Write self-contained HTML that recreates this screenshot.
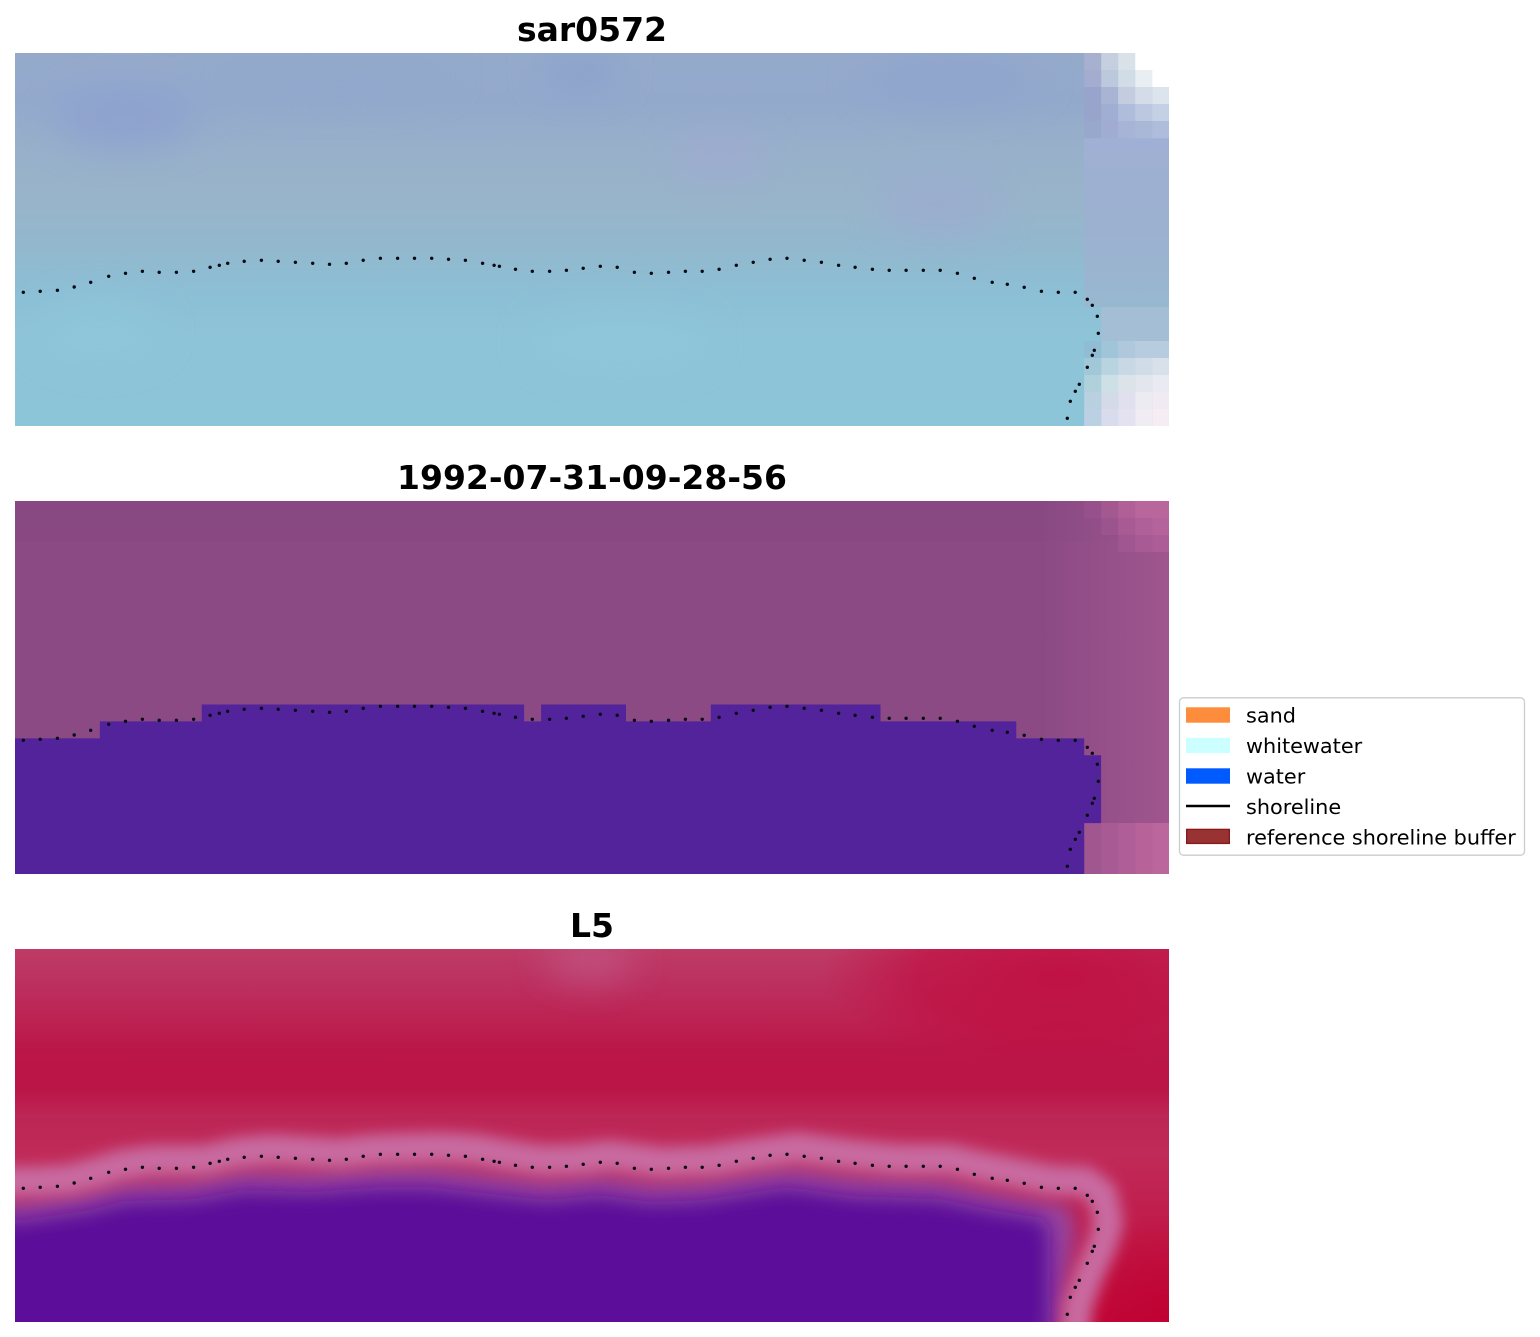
<!DOCTYPE html>
<html>
<head>
<meta charset="utf-8">
<style>
html,body{margin:0;padding:0;background:#ffffff;}
svg{display:block;}
</style>
</head>
<body>
<svg width="1540" height="1337" viewBox="0 0 1540 1337" xmlns="http://www.w3.org/2000/svg">
<defs>
  <clipPath id="c1"><rect x="15" y="53" width="1154" height="373"/></clipPath>
  <clipPath id="c2"><rect x="15" y="501" width="1154" height="373"/></clipPath>
  <clipPath id="c3"><rect x="15" y="949" width="1154" height="373"/></clipPath>
  <filter id="b10" filterUnits="userSpaceOnUse" x="-300" y="-100" width="2000" height="1600"><feGaussianBlur stdDeviation="10"/></filter>
  <filter id="b7" filterUnits="userSpaceOnUse" x="-300" y="-100" width="2000" height="1600"><feGaussianBlur stdDeviation="7"/></filter>
  <filter id="b18" filterUnits="userSpaceOnUse" x="-300" y="-100" width="2000" height="1600"><feGaussianBlur stdDeviation="18"/></filter>
  <linearGradient id="g1" gradientUnits="userSpaceOnUse" x1="0" y1="53" x2="0" y2="426">
    <stop offset="0" stop-color="#95aacb"/>
    <stop offset="0.13" stop-color="#93a9cc"/>
    <stop offset="0.26" stop-color="#98b0ca"/>
    <stop offset="0.4" stop-color="#98b4ca"/>
    <stop offset="0.53" stop-color="#92b8ce"/>
    <stop offset="0.64" stop-color="#8cbfd5"/>
    <stop offset="0.77" stop-color="#8ec4d8"/>
    <stop offset="1" stop-color="#8cc4d8"/>
  </linearGradient>
  <linearGradient id="g1r" gradientUnits="userSpaceOnUse" x1="0" y1="138" x2="0" y2="307">
    <stop offset="0" stop-color="#a0b0d4"/>
    <stop offset="0.5" stop-color="#9cb0d0"/>
    <stop offset="1" stop-color="#98b8d0"/>
  </linearGradient>
  <linearGradient id="g2r" gradientUnits="userSpaceOnUse" x1="1040" y1="0" x2="1169" y2="0">
    <stop offset="0" stop-color="#b8649c" stop-opacity="0"/>
    <stop offset="1" stop-color="#b8649c" stop-opacity="0.45"/>
  </linearGradient>
  <linearGradient id="g3" gradientUnits="userSpaceOnUse" x1="0" y1="949" x2="0" y2="1322">
    <stop offset="0" stop-color="#be3c66"/>
    <stop offset="0.09" stop-color="#bc3060"/>
    <stop offset="0.18" stop-color="#bc2454"/>
    <stop offset="0.27" stop-color="#bb1648"/>
    <stop offset="0.37" stop-color="#bb1446"/>
    <stop offset="0.45" stop-color="#bc2656"/>
    <stop offset="0.55" stop-color="#c02a58"/>
    <stop offset="1" stop-color="#c00838"/>
  </linearGradient>
  <radialGradient id="r3tr" gradientUnits="userSpaceOnUse" cx="1060" cy="975" r="200" gradientTransform="translate(1060 975) scale(1.2 0.45) translate(-1060 -975)">
    <stop offset="0" stop-color="#c00c3e" stop-opacity="0.85"/>
    <stop offset="0.6" stop-color="#c00c3e" stop-opacity="0.6"/>
    <stop offset="1" stop-color="#c00c3e" stop-opacity="0"/>
  </radialGradient>
  <radialGradient id="r3br" gradientUnits="userSpaceOnUse" cx="1169" cy="1322" r="110">
    <stop offset="0" stop-color="#c00030" stop-opacity="0.8"/>
    <stop offset="1" stop-color="#c00030" stop-opacity="0"/>
  </radialGradient>
</defs>

<!-- Titles -->
<g font-family="'DejaVu Sans','Liberation Sans',sans-serif" font-weight="bold" font-size="33" text-anchor="middle" fill="#000">
  <text x="592" y="41">sar0572</text>
  <text x="592" y="489">1992-07-31-09-28-56</text>
  <text x="592" y="937">L5</text>
</g>

<!-- Panel 1 -->
<g clip-path="url(#c1)">
  <rect x="15" y="53" width="1154" height="373" fill="url(#g1)"/>
  <g filter="url(#b18)" opacity="0.6">
    <ellipse cx="125" cy="120" rx="70" ry="30" fill="#8a9cd2"/>
    <ellipse cx="280" cy="70" rx="40" ry="20" fill="#a4aed2"/>
    <ellipse cx="580" cy="70" rx="40" ry="20" fill="#869ecc"/>
    <ellipse cx="720" cy="155" rx="45" ry="25" fill="#a2a8d4"/>
    <ellipse cx="940" cy="205" rx="60" ry="30" fill="#9ea8d2"/>
    <ellipse cx="950" cy="80" rx="90" ry="25" fill="#8ea2cc"/>
    <ellipse cx="330" cy="75" rx="120" ry="25" fill="#8fa8cc"/>
    <ellipse cx="100" cy="330" rx="60" ry="30" fill="#90c8dc"/>
    <ellipse cx="620" cy="340" rx="90" ry="30" fill="#92c8da"/>
  </g>
  <!-- right edge columns -->
  <rect x="1084.2" y="138" width="85" height="169" fill="url(#g1r)"/>
  <g>
    <rect x="1084.2" y="53" width="17" height="17.2" fill="#a8b0d0"/>
    <rect x="1101.2" y="53" width="17" height="17.2" fill="#c4d0e0"/>
    <rect x="1118.1" y="53" width="17" height="17.2" fill="#d8e2e8"/>
    <rect x="1084.2" y="70" width="17" height="17.2" fill="#a4acd0"/>
    <rect x="1101.2" y="70" width="17" height="17.2" fill="#bcc8dc"/>
    <rect x="1118.1" y="70" width="17" height="17.2" fill="#d0dce6"/>
    <rect x="1135.1" y="70" width="17" height="17.2" fill="#e8eef2"/>
    <rect x="1084.2" y="87" width="17" height="17.2" fill="#98a4cc"/>
    <rect x="1101.2" y="87" width="17" height="17.2" fill="#a8b4d4"/>
    <rect x="1118.1" y="87" width="17" height="17.2" fill="#c4cce0"/>
    <rect x="1135.1" y="87" width="17" height="17.2" fill="#d4dcea"/>
    <rect x="1152.1" y="87" width="17" height="17.2" fill="#dce4ee"/>
    <rect x="1084.2" y="104" width="17" height="17.2" fill="#98a4cc"/>
    <rect x="1101.2" y="104" width="17" height="17.2" fill="#a0aed4"/>
    <rect x="1118.1" y="104" width="17" height="17.2" fill="#b0bcdc"/>
    <rect x="1135.1" y="104" width="17" height="17.2" fill="#bcc8e0"/>
    <rect x="1152.1" y="104" width="17" height="17.2" fill="#c4d0e4"/>
    <rect x="1084.2" y="121" width="17" height="17.2" fill="#98a8cc"/>
    <rect x="1101.2" y="121" width="17" height="17.2" fill="#a0acd2"/>
    <rect x="1118.1" y="121" width="17" height="17.2" fill="#a8b4d6"/>
    <rect x="1135.1" y="121" width="17" height="17.2" fill="#aab8d8"/>
    <rect x="1152.1" y="121" width="17" height="17.2" fill="#b0bcdc"/>

    <rect x="1101.2" y="307" width="68" height="34.2" fill="#a4bed6"/>
    <rect x="1084.2" y="341" width="17" height="17.2" fill="#90bcd4"/>
    <rect x="1101.2" y="341" width="17" height="17.2" fill="#a0c4d8"/>
    <rect x="1118.1" y="341" width="17" height="17.2" fill="#b0c8dc"/>
    <rect x="1135.1" y="341" width="34" height="17.2" fill="#b8cce0"/>
    <rect x="1084.2" y="358" width="17" height="17.2" fill="#a0c8d8"/>
    <rect x="1101.2" y="358" width="17" height="17.2" fill="#b8d4e0"/>
    <rect x="1118.1" y="358" width="17" height="17.2" fill="#c8d8e4"/>
    <rect x="1135.1" y="358" width="17" height="17.2" fill="#d0dce8"/>
    <rect x="1152.1" y="358" width="17" height="17.2" fill="#d8e0ea"/>
    <rect x="1084.2" y="375" width="17" height="17.2" fill="#b0d0dc"/>
    <rect x="1101.2" y="375" width="17" height="17.2" fill="#cce0e6"/>
    <rect x="1118.1" y="375" width="17" height="17.2" fill="#dce4ea"/>
    <rect x="1135.1" y="375" width="17" height="17.2" fill="#e4e6ee"/>
    <rect x="1152.1" y="375" width="17" height="17.2" fill="#eaeaf2"/>
    <rect x="1084.2" y="392" width="17" height="17.2" fill="#b8d0e0"/>
    <rect x="1101.2" y="392" width="17" height="17.2" fill="#d4dae8"/>
    <rect x="1118.1" y="392" width="17" height="17.2" fill="#e0e0ee"/>
    <rect x="1135.1" y="392" width="17" height="17.2" fill="#ecebf2"/>
    <rect x="1152.1" y="392" width="17" height="17.2" fill="#f2eaf2"/>
    <rect x="1084.2" y="409" width="17" height="17.2" fill="#bcd0e4"/>
    <rect x="1101.2" y="409" width="17" height="17.2" fill="#d8dcec"/>
    <rect x="1118.1" y="409" width="17" height="17.2" fill="#e4e2f0"/>
    <rect x="1135.1" y="409" width="17" height="17.2" fill="#f0ecf4"/>
    <rect x="1152.1" y="409" width="17" height="17.2" fill="#f6ecf4"/>
  </g>
  <rect x="1135.1" y="52" width="35" height="18" fill="#ffffff"/>
  <rect x="1152.1" y="69" width="18" height="18" fill="#ffffff"/>
</g>

<!-- Panel 2 -->
<g clip-path="url(#c2)">
  <rect x="15" y="501" width="1154" height="373" fill="#8b4a84"/>
  <rect x="15" y="501" width="1154" height="40" fill="#874882" opacity="0.7"/>
  <rect x="1040" y="501" width="130" height="373" fill="url(#g2r)"/>
  <rect x="1084.2" y="501" width="17" height="17" fill="#98508c"/>
  <rect x="1101.2" y="501" width="17" height="17" fill="#a45890"/>
  <rect x="1118.1" y="501" width="17" height="17" fill="#b06096"/>
  <rect x="1135.1" y="501" width="34" height="17" fill="#b8669c"/>
  <rect x="1101.2" y="518" width="17" height="17" fill="#9c548e"/>
  <rect x="1118.1" y="518" width="17" height="17" fill="#a85a94"/>
  <rect x="1135.1" y="518" width="17" height="17" fill="#b06098"/>
  <rect x="1152.1" y="518" width="17" height="17" fill="#b4649a"/>
  <rect x="1118.1" y="535" width="17" height="17" fill="#a05690"/>
  <rect x="1135.1" y="535" width="17" height="17" fill="#a85a94"/>
  <rect x="1152.1" y="535" width="17" height="17" fill="#ac5c96"/>
  <rect x="1084.2" y="823" width="17" height="51" fill="#a0568e"/>
  <rect x="1101.2" y="823" width="17" height="51" fill="#a85a94"/>
  <rect x="1118.1" y="823" width="17" height="51" fill="#b05e98"/>
  <rect x="1135.1" y="823" width="17" height="51" fill="#b8629a"/>
  <rect x="1152.1" y="823" width="17" height="51" fill="#bc669e"/>
  <path d="M15 874V738.4H99.85V721.4H201.7V704.5H524.1V721.4H541.1V704.5H626V721.4H710.8V704.5H880.5V721.4H1016.3V738.4H1084.2V755.3H1101.1V823.1H1084.2V874Z" fill="#52239a"/>
</g>

<!-- Panel 3 -->
<g clip-path="url(#c3)">
  <rect x="15" y="949" width="1154" height="373" fill="url(#g3)"/>
  <ellipse cx="1060" cy="975" rx="240" ry="90" fill="url(#r3tr)"/>
  <rect x="1040" y="1200" width="140" height="130" fill="url(#r3br)"/>
  <ellipse filter="url(#b18)" cx="590" cy="960" rx="45" ry="20" fill="#c25888" opacity="0.8"/>
  <!-- pink-purple transition -->
  <path filter="url(#b10)" d="M-50 1200L23 1200L90 1190L125 1182L193 1180L244 1170L312 1172L380 1167L431 1167L499 1175L549 1180L600 1175L651 1182L702 1180L787 1167L855 1176L940 1179L992 1191L1041 1200L1070 1205L1076 1235L1070 1270L1060 1330L1060 1400L-50 1400Z" fill="#9646a0"/>
  <path filter="url(#b10)" d="M-50 1220L23 1220L90 1210L125 1201L193 1199L244 1190L312 1192L380 1187L431 1187L499 1195L549 1200L600 1195L651 1202L702 1200L787 1187L855 1196L940 1199L992 1210L1041 1218L1050 1228L1050 1400L-50 1400Z" fill="#5c0a9a"/>
  <g transform="translate(10,889)">
    <path filter="url(#b7)" d="M-50 293L23.3 292.3L57.4 290.3L90.7 282.3L108.7 276.3L142.4 271.3L193.6 271.3L227.7 263.3L261.4 260.3L329.5 264.3L363.2 260.3L431.7 258.3L465.4 260.3L499.4 266.3L532.3 271.3L566.4 270.3L600.3 266.3L651.3 273.3L702.2 271.3L736.3 265.3L787 258.3L838.6 265.3L889.2 270.3L940.2 270.3L974.3 278.3L1007.3 284.3L1041.4 291.3L1075.2 292.3L1092.3 305.3L1098.3 333.3L1092.3 355.3L1079.3 384.3L1067.3 418.3L1060 500" fill="none" stroke="#c86aa0" stroke-width="30" stroke-linejoin="round"/>
  </g>
</g>

<!-- Shoreline dots -->
<g fill="none" stroke="#0a0a14" stroke-width="3.4" stroke-linecap="round">
  <path d="M23.3 292.3h0.01M40.2 291.3h0.01M57.4 290.3h0.01M74.2 287h0.01M90.7 282.3h0.01M108.7 276.3h0.01M125.5 273.3h0.01M142.4 271.3h0.01M159.2 272.3h0.01M176.4 272.3h0.01M193.6 271.3h0.01M210.1 267.3h0.01M219.3 265.3h0.01M227.7 263.3h0.01M244.2 261.3h0.01M261.4 260.3h0.01M278.2 261.3h0.01M295.4 262.3h0.01M312.7 263.3h0.01M329.5 264.3h0.01M346.3 263.3h0.01M363.2 260.3h0.01M380.4 258.3h0.01M397.6 258.3h0.01M414.5 258.3h0.01M431.7 258.3h0.01M448.5 259.3h0.01M465.4 260.3h0.01M482.6 263.3h0.01M494.1 265.3h0.01M499.4 266.3h0.01M515.5 269.3h0.01M532.3 271.3h0.01M549.6 271.3h0.01M566.4 270.3h0.01M583.2 268.3h0.01M600.3 266.3h0.01M617.2 267.3h0.01M634.4 272.3h0.01M651.3 273.3h0.01M668.5 272.3h0.01M685.4 271.3h0.01M702.2 271.3h0.01M719.1 269.3h0.01M736.3 265.3h0.01M753.2 262.3h0.01M770.1 259.3h0.01M787 258.3h0.01M804.2 260.3h0.01M821.4 262.3h0.01M838.6 265.3h0.01M855.1 267.3h0.01M872.4 269.3h0.01M889.2 270.3h0.01M906.1 270.3h0.01M923.3 270.3h0.01M940.2 270.3h0.01M957.4 273.3h0.01M974.3 278.3h0.01M992.2 282.3h0.01M1007.3 284.3h0.01M1024.2 287.3h0.01M1041.4 291.3h0.01M1058.3 292.3h0.01M1075.2 292.3h0.01M1087.3 299.3h0.01M1092.3 305.3h0.01M1097.3 316.3h0.01M1098.3 333.3h0.01M1094.3 350.3h0.01M1092.3 355.3h0.01M1087.3 367.3h0.01M1079.3 384.3h0.01M1075.3 391.3h0.01M1070.3 401.3h0.01M1067.3 418.3h0.01"/>
  <g transform="translate(0,448)">
    <path d="M23.3 292.3h0.01M40.2 291.3h0.01M57.4 290.3h0.01M74.2 287h0.01M90.7 282.3h0.01M108.7 276.3h0.01M125.5 273.3h0.01M142.4 271.3h0.01M159.2 272.3h0.01M176.4 272.3h0.01M193.6 271.3h0.01M210.1 267.3h0.01M219.3 265.3h0.01M227.7 263.3h0.01M244.2 261.3h0.01M261.4 260.3h0.01M278.2 261.3h0.01M295.4 262.3h0.01M312.7 263.3h0.01M329.5 264.3h0.01M346.3 263.3h0.01M363.2 260.3h0.01M380.4 258.3h0.01M397.6 258.3h0.01M414.5 258.3h0.01M431.7 258.3h0.01M448.5 259.3h0.01M465.4 260.3h0.01M482.6 263.3h0.01M494.1 265.3h0.01M499.4 266.3h0.01M515.5 269.3h0.01M532.3 271.3h0.01M549.6 271.3h0.01M566.4 270.3h0.01M583.2 268.3h0.01M600.3 266.3h0.01M617.2 267.3h0.01M634.4 272.3h0.01M651.3 273.3h0.01M668.5 272.3h0.01M685.4 271.3h0.01M702.2 271.3h0.01M719.1 269.3h0.01M736.3 265.3h0.01M753.2 262.3h0.01M770.1 259.3h0.01M787 258.3h0.01M804.2 260.3h0.01M821.4 262.3h0.01M838.6 265.3h0.01M855.1 267.3h0.01M872.4 269.3h0.01M889.2 270.3h0.01M906.1 270.3h0.01M923.3 270.3h0.01M940.2 270.3h0.01M957.4 273.3h0.01M974.3 278.3h0.01M992.2 282.3h0.01M1007.3 284.3h0.01M1024.2 287.3h0.01M1041.4 291.3h0.01M1058.3 292.3h0.01M1075.2 292.3h0.01M1087.3 299.3h0.01M1092.3 305.3h0.01M1097.3 316.3h0.01M1098.3 333.3h0.01M1094.3 350.3h0.01M1092.3 355.3h0.01M1087.3 367.3h0.01M1079.3 384.3h0.01M1075.3 391.3h0.01M1070.3 401.3h0.01M1067.3 418.3h0.01"/>
  </g>
  <g transform="translate(0,896)">
    <path d="M23.3 292.3h0.01M40.2 291.3h0.01M57.4 290.3h0.01M74.2 287h0.01M90.7 282.3h0.01M108.7 276.3h0.01M125.5 273.3h0.01M142.4 271.3h0.01M159.2 272.3h0.01M176.4 272.3h0.01M193.6 271.3h0.01M210.1 267.3h0.01M219.3 265.3h0.01M227.7 263.3h0.01M244.2 261.3h0.01M261.4 260.3h0.01M278.2 261.3h0.01M295.4 262.3h0.01M312.7 263.3h0.01M329.5 264.3h0.01M346.3 263.3h0.01M363.2 260.3h0.01M380.4 258.3h0.01M397.6 258.3h0.01M414.5 258.3h0.01M431.7 258.3h0.01M448.5 259.3h0.01M465.4 260.3h0.01M482.6 263.3h0.01M494.1 265.3h0.01M499.4 266.3h0.01M515.5 269.3h0.01M532.3 271.3h0.01M549.6 271.3h0.01M566.4 270.3h0.01M583.2 268.3h0.01M600.3 266.3h0.01M617.2 267.3h0.01M634.4 272.3h0.01M651.3 273.3h0.01M668.5 272.3h0.01M685.4 271.3h0.01M702.2 271.3h0.01M719.1 269.3h0.01M736.3 265.3h0.01M753.2 262.3h0.01M770.1 259.3h0.01M787 258.3h0.01M804.2 260.3h0.01M821.4 262.3h0.01M838.6 265.3h0.01M855.1 267.3h0.01M872.4 269.3h0.01M889.2 270.3h0.01M906.1 270.3h0.01M923.3 270.3h0.01M940.2 270.3h0.01M957.4 273.3h0.01M974.3 278.3h0.01M992.2 282.3h0.01M1007.3 284.3h0.01M1024.2 287.3h0.01M1041.4 291.3h0.01M1058.3 292.3h0.01M1075.2 292.3h0.01M1087.3 299.3h0.01M1092.3 305.3h0.01M1097.3 316.3h0.01M1098.3 333.3h0.01M1094.3 350.3h0.01M1092.3 355.3h0.01M1087.3 367.3h0.01M1079.3 384.3h0.01M1075.3 391.3h0.01M1070.3 401.3h0.01M1067.3 418.3h0.01"/>
  </g>
</g>

<!-- Legend -->
<rect x="1179.5" y="697.8" width="345" height="157.4" rx="4" ry="4" fill="#ffffff" fill-opacity="0.8" stroke="#cccccc" stroke-width="1.3"/>
<rect x="1186" y="707.3" width="44" height="15.4" fill="#fd8d3c"/>
<rect x="1186" y="737.8" width="44" height="15.4" fill="#ccffff"/>
<rect x="1186" y="768.3" width="44" height="15.4" fill="#005bff"/>
<line x1="1186" y1="806" x2="1230" y2="806" stroke="#000000" stroke-width="2.6"/>
<rect x="1186.7" y="829.4" width="42.6" height="14" fill="#993333" stroke="#8a1a1a" stroke-width="1.4"/>
<g font-family="'DejaVu Sans','Liberation Sans',sans-serif" font-size="20.8" fill="#000">
  <text x="1246" y="722.3">sand</text>
  <text x="1246" y="752.8">whitewater</text>
  <text x="1246" y="783.3">water</text>
  <text x="1246" y="813.8">shoreline</text>
  <text x="1246" y="844.3">reference shoreline buffer</text>
</g>
</svg>
</body>
</html>
